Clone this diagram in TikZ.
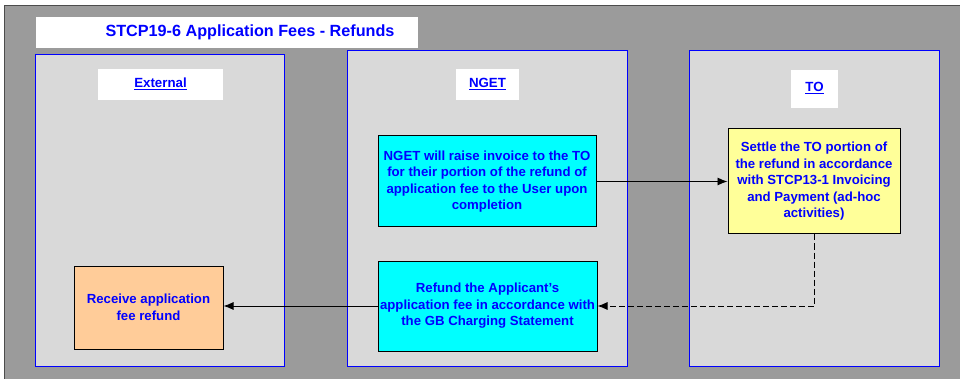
\documentclass[tikz,border=0pt]{standalone}
\usepackage{fontspec}
\setmainfont{Liberation Sans}
\usetikzlibrary{arrows.meta}
\definecolor{bg}{HTML}{9B9B9B}
\definecolor{lanefill}{HTML}{D9D9D9}
\definecolor{txtblue}{HTML}{0000FF}
\definecolor{cyanfill}{HTML}{00FFFF}
\definecolor{yellowfill}{HTML}{FFFF99}
\definecolor{orangefill}{HTML}{FFCC99}
\tikzset{
  lane/.style={draw=txtblue, line width=1pt, fill=lanefill},
  hdrtext/.style={text=txtblue, font=\bfseries\fontsize{13.3}{15}\selectfont},
  task/.style={draw=black, line width=1pt, text=txtblue, align=center,
    inner sep=0pt, font=\bfseries\fontsize{13.2}{16.5}\selectfont},
  flow/.style={-{Latex[length=10pt,width=8pt]}, line width=0.9pt, black},
}
\begin{document}
\begin{tikzpicture}[x=1pt,y=-1pt]
\useasboundingbox (0,0) rectangle (960,379);
\fill[white] (0,0) rectangle (960,379);
\fill[bg] (5,6) rectangle (960,379);
\draw[black!70, line width=1.2pt] (4.6,379) -- (4.6,5.6) -- (960,5.6);
% title
\fill[white] (36,17) rectangle (418,48);
\node[text=txtblue, font=\fontsize{16.2}{18}\selectfont\bfseries] (title) at (250,32) {STCP19-6 Application Fees - Refunds};
% lanes
\draw[lane] (35,55) rectangle (284,366);
\draw[lane] (347,51) rectangle (627,366);
\draw[lane] (689,51) rectangle (939,366);
% lane headers
\fill[white] (98,69) rectangle (223,100);
\node[hdrtext] (hext) at (160.5,84) {\underline{External}};
\fill[white] (456,69) rectangle (519,100);
\node[hdrtext] (hnget) at (487.5,84) {\underline{NGET}};
\fill[white] (791,70) rectangle (838,108);
\node[hdrtext] (hto) at (814.5,88) {\underline{TO}};
% tasks
\node[task, fill=cyanfill, minimum width=218pt, minimum height=91pt] (raise) at (487,181.5)
  {NGET will raise invoice to the TO\\for their portion of the refund of\\application fee to the User upon\\completion};
\node[task, fill=yellowfill, minimum width=172pt, minimum height=105pt] (settle) at (814,181.5)
  {Settle the TO portion of\\the refund in accordance\\with STCP13-1 Invoicing\\and Payment (ad-hoc\\activities)};
\node[task, fill=cyanfill, minimum width=219pt, minimum height=90pt] (refund) at (487.5,306)
  {Refund the Applicant's\\application fee in accordance with\\the GB Charging Statement};
\node[task, fill=orangefill, minimum width=149pt, minimum height=83pt] (receive) at (148.5,307.5)
  {Receive application\\fee refund};
% connectors
\draw[flow] (raise.east) -- (settle.west);
\draw[flow, dash pattern=on 6pt off 3pt] (settle.south) |- (refund.east);
\draw[flow] (refund.west) -- (receive.east |- refund.west);
\end{tikzpicture}
\end{document}
